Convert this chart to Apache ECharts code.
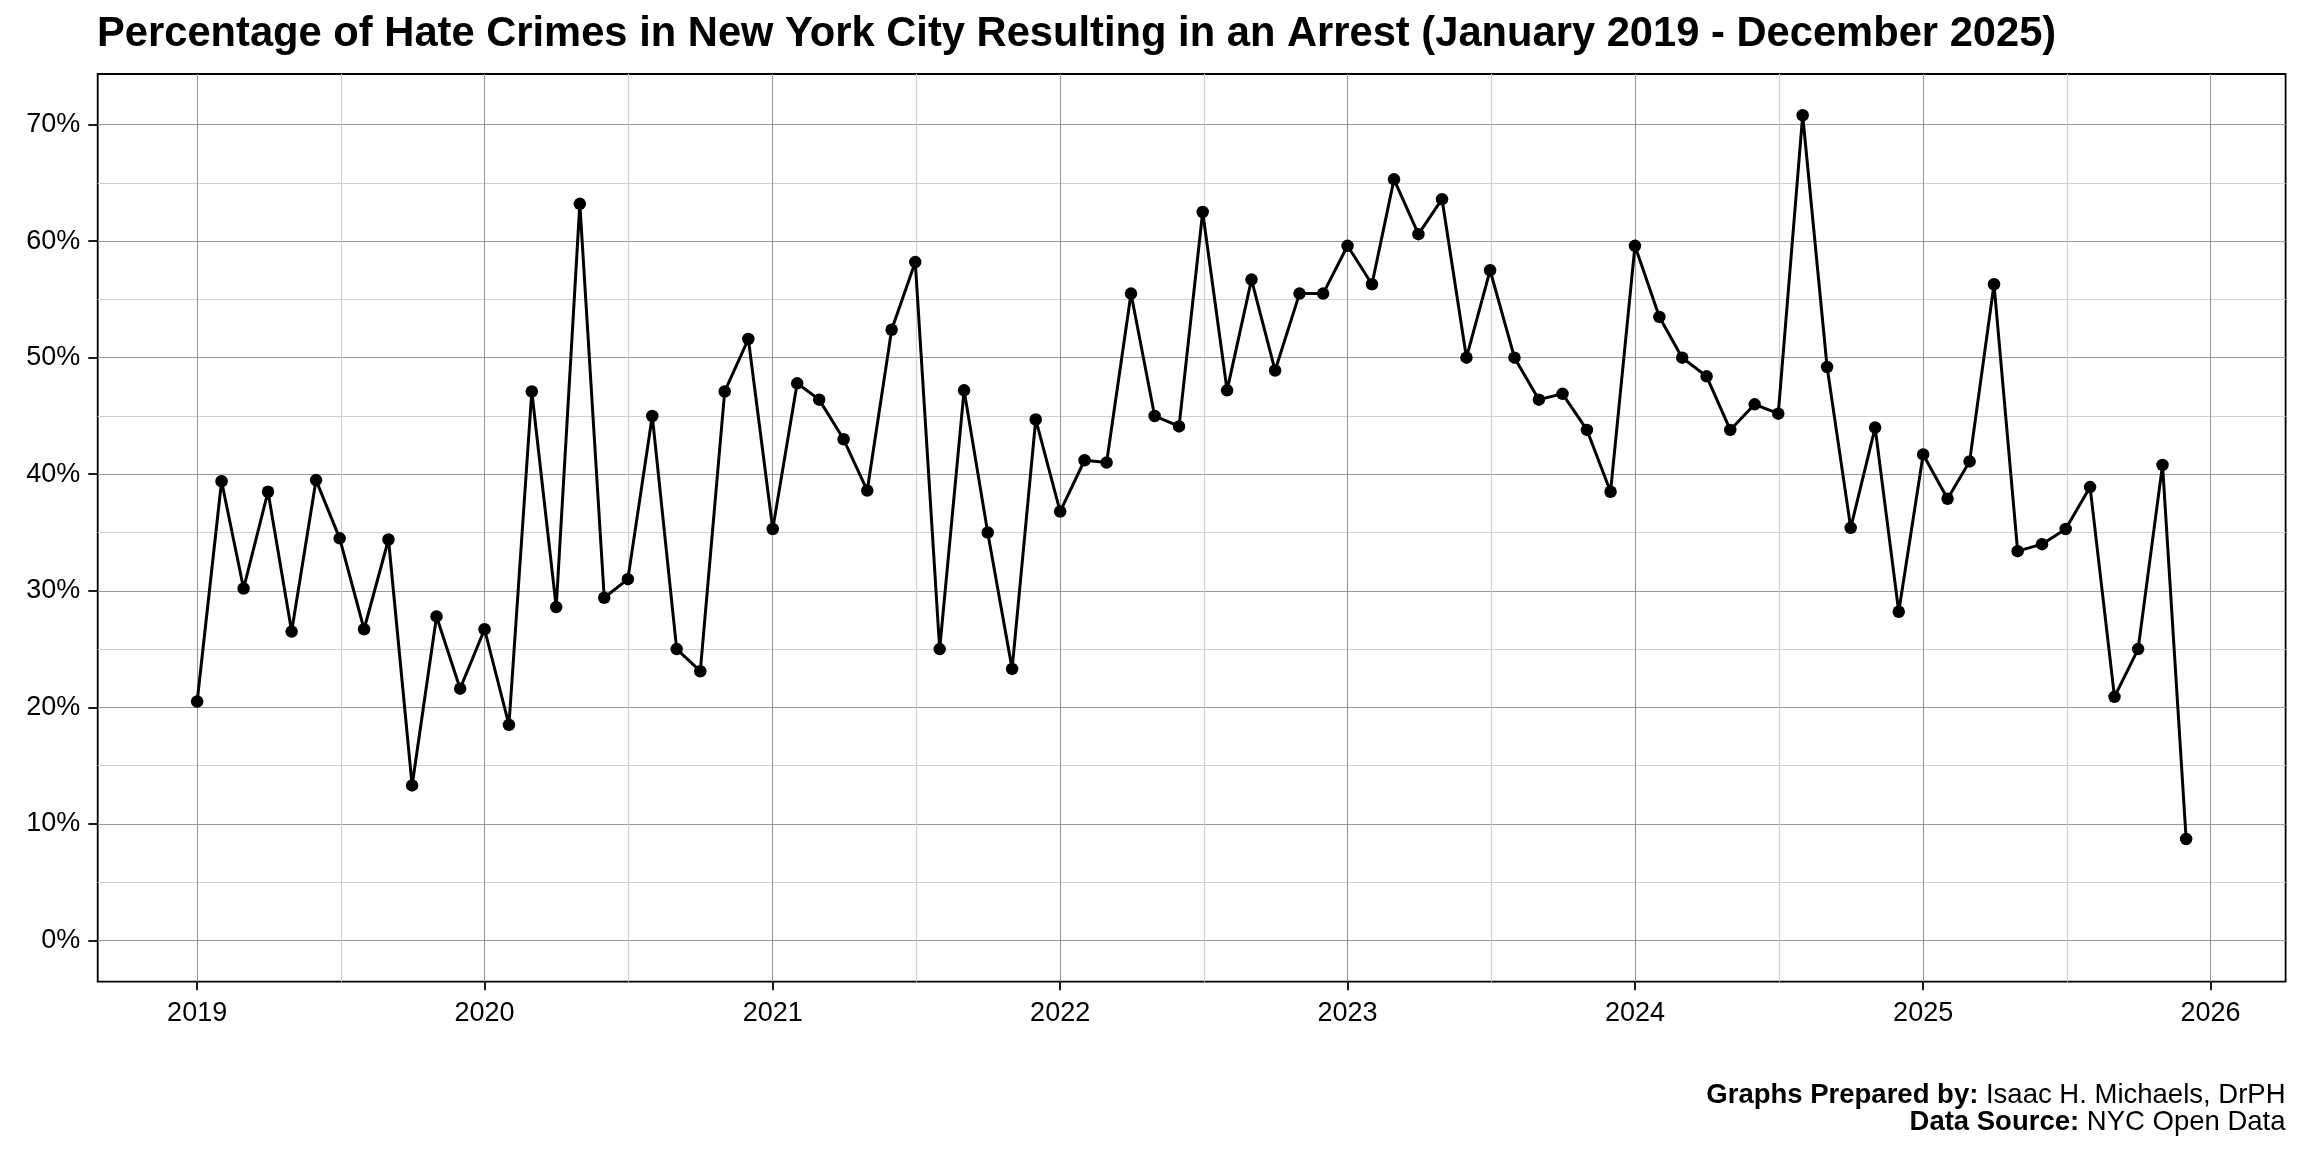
<!DOCTYPE html>
<html>
<head>
<meta charset="utf-8">
<script src="https://cdn.jsdelivr.net/npm/echarts@6/dist/echarts.min.js"></script>
<style>
html,body{margin:0;padding:0;background:#fff;}
#chart{width:2304px;height:1152px;}
</style>
</head>
<body>
<div id="chart"></div>
<script>
// Percentage of hate crimes resulting in an arrest, by month (Jan..Dec)
const years = [2019, 2020, 2021, 2022, 2023, 2024, 2025];
const pct2019 = [20.5, 39.4, 30.2, 38.5, 26.5, 39.5, 34.5, 26.7, 34.4, 13.3, 27.8, 21.6];
const pct2020 = [26.7, 18.5, 47.1, 28.6, 63.2, 29.4, 31.0, 45.0, 25.0, 23.1, 47.1, 51.6];
const pct2021 = [35.3, 47.8, 46.4, 43.0, 38.6, 52.4, 58.2, 25.0, 47.2, 35.0, 23.3, 44.7];
const pct2022 = [36.8, 41.2, 41.0, 55.5, 45.0, 44.1, 62.5, 47.2, 56.7, 48.9, 55.5, 55.5];
const pct2023 = [59.6, 56.3, 65.3, 60.6, 63.6, 50.0, 57.5, 50.0, 46.4, 46.9, 43.8, 38.5];
const pct2024 = [59.6, 53.5, 50.0, 48.4, 43.8, 46.0, 45.2, 70.8, 49.2, 35.4, 44.0, 28.2];
const pct2025 = [41.7, 37.9, 41.1, 56.3, 33.4, 34.0, 35.3, 38.9, 20.9, 25.0, 40.8, 8.7];
const yTicks = [0, 10, 20, 30, 40, 50, 60, 70];
const yMinorTicks = [5, 15, 25, 35, 45, 55, 65];
const xTickYears = [2019, 2020, 2021, 2022, 2023, 2024, 2025, 2026];

const pctByYear = [pct2019, pct2020, pct2021, pct2022, pct2023, pct2024, pct2025];
const data = [];
years.forEach((y, i) => {
  pctByYear[i].forEach((v, m) => data.push([Date.UTC(y, m, 1), v]));
});

const tFirst = data[0][0], tLast = data[data.length - 1][0];
const tPad = (tLast - tFirst) * 0.05;
const vMax = Math.max(...data.map(d => d[1]));
const vPad = vMax * 0.05;

const xMajor = xTickYears.map(y => Date.UTC(y, 0, 1));
const xMinor = [];
for (let i = 0; i < xMajor.length - 1; i++) xMinor.push((xMajor[i] + xMajor[i + 1]) / 2);

const FONT = 'Liberation Sans';
const footRich = {
  b: {fontFamily: FONT, fontWeight: 'bold', fontSize: 27.5, color: '#000'},
  r: {fontFamily: FONT, fontWeight: 'normal', fontSize: 27.5, color: '#000'}
};
const chart = echarts.init(document.getElementById('chart'), null, {renderer: 'canvas'});
chart.setOption({
  animation: false,
  backgroundColor: '#ffffff',
  textStyle: {fontFamily: FONT},
  title: [
    {
      text: 'Percentage of Hate Crimes in New York City Resulting in an Arrest (January 2019 - December 2025)',
      left: 97,
      top: 14,
      padding: 0,
      textStyle: {fontFamily: FONT, fontWeight: 'bold', fontSize: 41.7, color: '#000'}
    },
    {
      text: '{b|Graphs Prepared by: }{r|Isaac H. Michaels, DrPH}',
      right: 18.5,
      top: 1081,
      padding: 0,
      textStyle: {rich: footRich}
    },
    {
      text: '{b|Data Source: }{r|NYC Open Data}',
      right: 18.5,
      top: 1108,
      padding: 0,
      textStyle: {rich: footRich}
    }
  ],
  grid: {
    left: 97.7, right: 18.4, top: 74, bottom: 170.3,
    show: true, borderColor: '#000', borderWidth: 1.8, backgroundColor: 'transparent'
  },
  xAxis: [
    {
      type: 'value',
      min: tFirst - tPad,
      max: tLast + tPad,
      axisLine: {show: false, onZero: false},
      axisTick: {show: true, customValues: xMajor, length: 8.5, lineStyle: {color: '#000', width: 1.8}},
      axisLabel: {
        customValues: xMajor, margin: 18, fontSize: 27, color: '#000', fontFamily: FONT,
        formatter: v => String(new Date(v).getUTCFullYear())
      },
      splitLine: {show: true, lineStyle: {color: '#999999', width: 1.1}}
    },
    {
      type: 'value',
      min: tFirst - tPad,
      max: tLast + tPad,
      position: 'top',
      axisLine: {show: false, onZero: false},
      axisTick: {show: false, customValues: xMinor},
      axisLabel: {show: false},
      splitLine: {show: true, lineStyle: {color: '#d0d0d0', width: 1.1}}
    }
  ],
  yAxis: [
    {
      type: 'value',
      min: -vPad,
      max: vMax + vPad,
      axisLine: {show: false, onZero: false},
      axisTick: {show: true, customValues: yTicks, length: 9.4, lineStyle: {color: '#000', width: 1.8}},
      axisLabel: {
        customValues: yTicks, margin: 17.5, fontSize: 27, color: '#000', fontFamily: FONT,
        formatter: v => v + '%'
      },
      splitLine: {show: true, lineStyle: {color: '#999999', width: 1.1}}
    },
    {
      type: 'value',
      min: -vPad,
      max: vMax + vPad,
      position: 'right',
      axisLine: {show: false, onZero: false},
      axisTick: {show: false, customValues: yMinorTicks},
      axisLabel: {show: false},
      splitLine: {show: true, lineStyle: {color: '#d0d0d0', width: 1.1}}
    }
  ],
  series: [
    {
      type: 'line',
      xAxisIndex: 0,
      yAxisIndex: 0,
      data: data,
      symbol: 'circle',
      symbolSize: 12.5,
      showSymbol: true,
      lineStyle: {color: '#000', width: 3},
      itemStyle: {color: '#000'},
      z: 5
    }
  ]
});
</script>
</body>
</html>
